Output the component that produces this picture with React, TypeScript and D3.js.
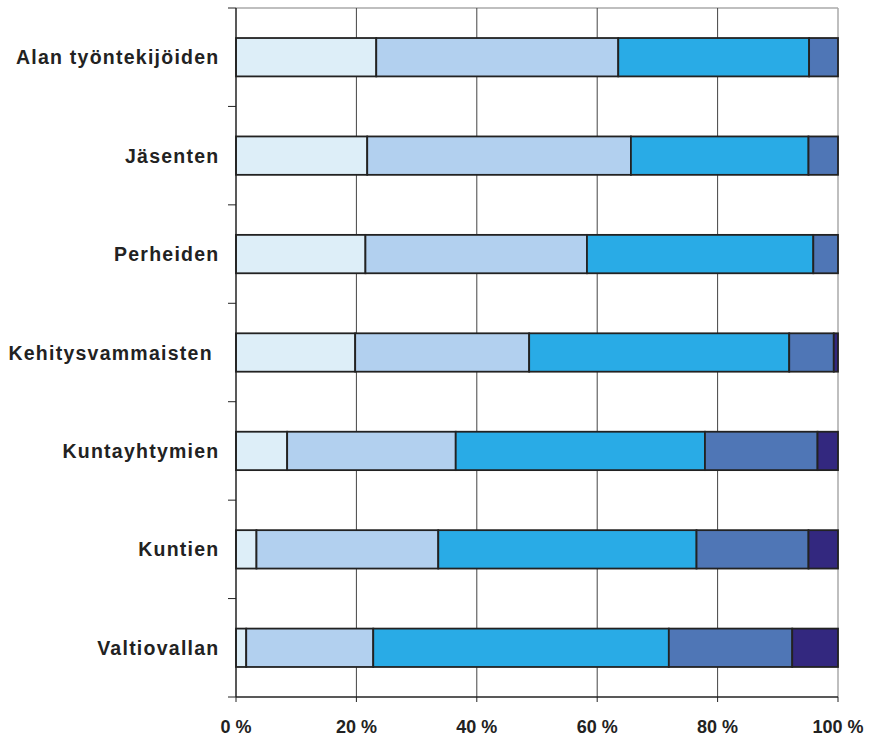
import React from 'react';
import * as d3 from 'd3';

const categories = [
  'Alan työntekijöiden',
  'Jäsenten',
  'Perheiden',
  'Kehitysvammaisten ',
  'Kuntayhtymien',
  'Kuntien',
  'Valtiovallan',
];

// shares per category, five segments (%)
const seg1 = [23.3, 21.8, 21.5, 19.8, 8.5, 3.4, 1.7];
const seg2 = [40.2, 43.8, 36.8, 28.9, 28.0, 30.2, 21.1];
const seg3 = [31.7, 29.5, 37.6, 43.2, 41.4, 42.9, 49.1];
const seg4 = [4.8, 4.9, 4.1, 7.4, 18.7, 18.6, 20.5];
const seg5 = [0, 0, 0, 0.7, 3.4, 4.9, 7.6];

const xTicks = [0, 20, 40, 60, 80, 100];
const xTickLabels = ['0 %', '20 %', '40 %', '60 %', '80 %', '100 %'];

const colors = ['#DDEEF8', '#B2D0EF', '#29ABE6', '#4F76B6', '#33287F'];

const W = 870;
const H = 739;
const left = 236;
const right = 838;
const top = 8;
const bottom = 697;

const App: React.FC = () => {
  const series = [seg1, seg2, seg3, seg4, seg5];
  const rows = categories.map((c, i) => {
    const r: any = { cat: c };
    series.forEach((s, k) => (r['s' + k] = s[i]));
    return r;
  });
  const keys = series.map((_, k) => 's' + k);
  const stacked = d3.stack<any>().keys(keys)(rows);

  const x = d3.scaleLinear().domain([0, 100]).range([left, right]);
  const y = d3
    .scaleBand<string>()
    .domain(categories)
    .range([top, bottom])
    .paddingInner(0.61)
    .paddingOuter(0.305);
  const band = (bottom - top) / categories.length;
  const boundaries = d3.range(categories.length + 1).map((i) => top + i * band);

  return (
    <svg
      width={W}
      height={H}
      style={{ position: 'absolute', left: 0, top: 0, background: '#fff' }}
      fontFamily="'Liberation Sans', Arial, sans-serif"
    >
      {/* top and right border */}
      <line x1={left} x2={right} y1={top} y2={top} stroke="#AAAAAA" strokeWidth={1.5} />
      <line x1={right} x2={right} y1={top} y2={bottom} stroke="#AAAAAA" strokeWidth={1.5} />
      {/* gridlines */}
      {xTicks.slice(1, -1).map((t) => (
        <line key={t} x1={x(t)} x2={x(t)} y1={top} y2={bottom} stroke="#444" strokeWidth={1} />
      ))}
      {/* bars */}
      {stacked.map((layer, k) =>
        layer.map((d, i) =>
          d[1] - d[0] > 0 ? (
            <rect
              key={k + '-' + i}
              x={x(d[0])}
              y={y(categories[i])}
              width={x(d[1]) - x(d[0])}
              height={y.bandwidth()}
              fill={colors[k]}
              stroke="#222"
              strokeWidth={1.8}
            />
          ) : null
        )
      )}
      {/* left axis */}
      <line x1={left} x2={left} y1={top} y2={bottom} stroke="#222" strokeWidth={1.5} />
      {boundaries.map((b, i) => (
        <line key={i} x1={left - 8} x2={left} y1={b} y2={b} stroke="#222" strokeWidth={1} />
      ))}
      {/* bottom axis */}
      <line x1={left} x2={right} y1={bottom} y2={bottom} stroke="#222" strokeWidth={1.5} />
      {xTicks.map((t) => (
        <line key={t} x1={x(t)} x2={x(t)} y1={bottom} y2={bottom + 5} stroke="#222" strokeWidth={1} />
      ))}
      {xTicks.map((t, i) => (
        <text
          key={t}
          x={x(t)}
          y={733}
          textAnchor="middle"
          fontSize={18}
          fontWeight="bold"
          fill="#222"
        >
          {xTickLabels[i]}
        </text>
      ))}
      {/* category labels */}
      {categories.map((c) => (
        <text
          key={c}
          x={219.5}
          y={(y(c) as number) + y.bandwidth() / 2}
          dy="0.36em"
          textAnchor="end"
          fontSize={19.5}
          fontWeight="bold"
          letterSpacing={1.25}
          fill="#222"
          style={{ whiteSpace: 'pre' }}
        >
          {c}
        </text>
      ))}
    </svg>
  );
};

export default App;
